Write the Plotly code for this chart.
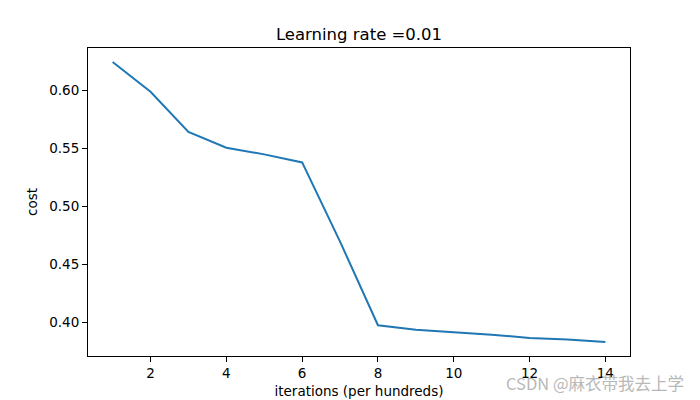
import plotly.graph_objects as go

iterations = [1, 2, 3, 4, 5, 6, 7, 8, 9, 10, 11, 12, 13, 14]
cost = [0.6241, 0.5985, 0.5640, 0.5503, 0.5446, 0.5377, 0.4695, 0.3975,
        0.3937, 0.3917, 0.3893, 0.3866, 0.3853, 0.3831]
x_ticks = [2, 4, 6, 8, 10, 12, 14]
y_ticks = [0.40, 0.45, 0.50, 0.55, 0.60]

L, R, T, B = 88, 630, 48, 356
W, H = 700, 400

fig = go.Figure()
fig.add_trace(go.Scatter(x=iterations, y=cost, mode="lines",
                         line=dict(color="#1f77b4", width=2)))

axis_common = dict(showgrid=False, zeroline=False, showline=True, linecolor="black",
                   linewidth=1, mirror=True, ticks="outside", ticklen=5,
                   tickwidth=1, tickcolor="black", automargin=False,
                   tickfont=dict(family="DejaVu Sans", size=13.5, color="black"))

fig.update_layout(
    width=W, height=H,
    margin=dict(l=L, r=W - R, t=T, b=H - B),
    paper_bgcolor="white", plot_bgcolor="white",
    showlegend=False,
    font=dict(family="DejaVu Sans", color="black"),
    title=dict(text="Learning rate =0.01", x=(L + R) / 2 / W, xanchor="center",
               y=1 - 34 / H, yanchor="middle",
               font=dict(family="DejaVu Sans", size=16.5, color="black")),
    xaxis=dict(range=[0.35, 14.65], tickvals=x_ticks,
               title=dict(text="iterations (per hundreds)", standoff=6,
                          font=dict(family="DejaVu Sans", size=13.5)),
               **axis_common),
    yaxis=dict(range=[0.3710, 0.6362], tickvals=y_ticks, tickformat=".2f",
               title=dict(text="cost", standoff=8,
                          font=dict(family="DejaVu Sans", size=13.5)),
               **axis_common),
)

fig.add_annotation(text="CSDN @麻衣带我去上学", xref="paper", yref="paper",
                   x=(686 - L) / (R - L), y=(B - 383) / (B - T),
                   xanchor="right", yanchor="middle", showarrow=False,
                   font=dict(family="Noto Sans CJK SC", size=16.5, color="#b8b8b8"))

fig.write_html("out.html")
